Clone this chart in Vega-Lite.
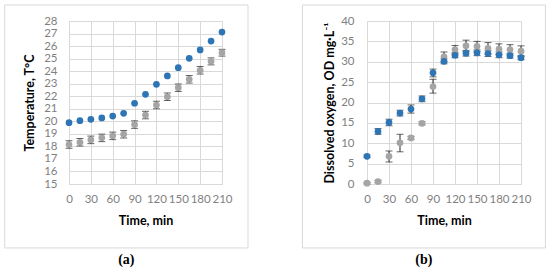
{
  "$schema": "https://vega.github.io/schema/vega-lite/v6.json",
  "padding": {"left": 4, "top": 4, "right": 0, "bottom": 0},
  "background": "white",
  "config": {
    "font": "Lato",
    "view": {"stroke": null},
    "axis": {
      "domainColor": "#d9d9d9", "gridColor": "#d9d9d9", "ticks": false, "labelOverlap": false,
      "labelColor": "#7f7f7f", "labelFont": "Lato", "labelFontSize": 11.5,
      "titleFont": "Lato", "titleFontSize": 12.5, "titleFontWeight": "bold", "titleColor": "#000000"
    },
    "title": {"font": "Liberation Serif", "fontSize": 14, "fontWeight": "bold", "orient": "bottom", "frame": "bounds", "offset": 5, "color": "#000000"}
  },
  "bounds": "flush",
  "spacing": 145,
  "hconcat": [
    {
      "width": 153, "height": 163,
      "title": {"text": "(a)"},
      "data": {"values": [
        {"t": 0, "s": "S1", "v": 19.89},
        {"t": 15, "s": "S1", "v": 20.05},
        {"t": 30, "s": "S1", "v": 20.16},
        {"t": 45, "s": "S1", "v": 20.27},
        {"t": 60, "s": "S1", "v": 20.42},
        {"t": 75, "s": "S1", "v": 20.64},
        {"t": 90, "s": "S1", "v": 21.44},
        {"t": 105, "s": "S1", "v": 22.15},
        {"t": 120, "s": "S1", "v": 22.95},
        {"t": 135, "s": "S1", "v": 23.62},
        {"t": 150, "s": "S1", "v": 24.28},
        {"t": 165, "s": "S1", "v": 25.02},
        {"t": 180, "s": "S1", "v": 25.69},
        {"t": 195, "s": "S1", "v": 26.4},
        {"t": 210, "s": "S1", "v": 27.12},
        {"t": 0, "s": "S2", "v": 18.15, "lo": 17.85, "hi": 18.45},
        {"t": 15, "s": "S2", "v": 18.33, "lo": 18.03, "hi": 18.63},
        {"t": 30, "s": "S2", "v": 18.52, "lo": 18.22, "hi": 18.82},
        {"t": 45, "s": "S2", "v": 18.68, "lo": 18.38, "hi": 18.98},
        {"t": 60, "s": "S2", "v": 18.84, "lo": 18.54, "hi": 19.14},
        {"t": 75, "s": "S2", "v": 18.97, "lo": 18.67, "hi": 19.27},
        {"t": 90, "s": "S2", "v": 19.74, "lo": 19.44, "hi": 20.04},
        {"t": 105, "s": "S2", "v": 20.5, "lo": 20.2, "hi": 20.8},
        {"t": 120, "s": "S2", "v": 21.3, "lo": 21.0, "hi": 21.6},
        {"t": 135, "s": "S2", "v": 21.96, "lo": 21.66, "hi": 22.26},
        {"t": 150, "s": "S2", "v": 22.68, "lo": 22.38, "hi": 22.98},
        {"t": 165, "s": "S2", "v": 23.35, "lo": 23.05, "hi": 23.65},
        {"t": 180, "s": "S2", "v": 24.07, "lo": 23.77, "hi": 24.37},
        {"t": 195, "s": "S2", "v": 24.78, "lo": 24.5, "hi": 25.06},
        {"t": 210, "s": "S2", "v": 25.47, "lo": 25.2, "hi": 25.74}
      ]},
      "layer": [
        {
          "data": {"values": [{"frame": "box"}]},
          "mark": {"type": "rect", "fill": "transparent", "stroke": "#d9d9d9", "strokeWidth": 1},
          "encoding": {
            "x": {"datum": -88.3, "type": "quantitative", "scale": {"domain": [0, 210], "nice": false, "zero": false},
              "axis": {"title": "Time, min", "values": [0, 30, 60, 90, 120, 150, 180, 210], "grid": true, "labelPadding": 9, "titlePadding": 10, "labelFlush": false, "labelOverlap": false}},
            "x2": {"datum": 245.7},
            "y": {"datum": 29.28, "type": "quantitative", "scale": {"domain": [15, 28], "nice": false, "zero": false},
              "axis": {"title": "Temperature, T°C", "values": [15, 16, 17, 18, 19, 20, 21, 22, 23, 24, 25, 26, 27, 28], "grid": true, "labelPadding": 12, "titlePadding": 7, "labelOverlap": false}},
            "y2": {"datum": 9.9}
          }
        },
        {
          "mark": {"type": "rule", "color": "#262626", "strokeWidth": 1},
          "encoding": {
            "x": {"field": "t", "type": "quantitative", "scale": {"domain": [0, 210], "nice": false, "zero": false},
              "axis": {"title": "Time, min", "values": [0, 30, 60, 90, 120, 150, 180, 210], "grid": true, "labelPadding": 9, "titlePadding": 10, "labelFlush": false, "labelOverlap": false}},
            "y": {"field": "lo", "type": "quantitative", "scale": {"domain": [15, 28], "nice": false, "zero": false},
              "axis": {"title": "Temperature, T°C", "values": [15, 16, 17, 18, 19, 20, 21, 22, 23, 24, 25, 26, 27, 28], "grid": true, "labelPadding": 12, "titlePadding": 7, "labelOverlap": false}},
            "y2": {"field": "hi"}
          }
        },
        {
          "mark": {"type": "tick", "orient": "horizontal", "color": "#262626", "size": 7, "thickness": 1},
          "encoding": {
            "x": {"field": "t", "type": "quantitative", "scale": {"domain": [0, 210], "nice": false, "zero": false},
              "axis": {"title": "Time, min", "values": [0, 30, 60, 90, 120, 150, 180, 210], "grid": true, "labelPadding": 9, "titlePadding": 10, "labelFlush": false, "labelOverlap": false}},
            "y": {"field": "lo", "type": "quantitative", "scale": {"domain": [15, 28], "nice": false, "zero": false},
              "axis": {"title": "Temperature, T°C", "values": [15, 16, 17, 18, 19, 20, 21, 22, 23, 24, 25, 26, 27, 28], "grid": true, "labelPadding": 12, "titlePadding": 7, "labelOverlap": false}}
          }
        },
        {
          "mark": {"type": "tick", "orient": "horizontal", "color": "#262626", "size": 7, "thickness": 1},
          "encoding": {
            "x": {"field": "t", "type": "quantitative", "scale": {"domain": [0, 210], "nice": false, "zero": false},
              "axis": {"title": "Time, min", "values": [0, 30, 60, 90, 120, 150, 180, 210], "grid": true, "labelPadding": 9, "titlePadding": 10, "labelFlush": false, "labelOverlap": false}},
            "y": {"field": "hi", "type": "quantitative", "scale": {"domain": [15, 28], "nice": false, "zero": false},
              "axis": {"title": "Temperature, T°C", "values": [15, 16, 17, 18, 19, 20, 21, 22, 23, 24, 25, 26, 27, 28], "grid": true, "labelPadding": 12, "titlePadding": 7, "labelOverlap": false}}
          }
        },
        {
          "mark": {"type": "point", "filled": true, "shape": "circle", "size": 45, "opacity": 1},
          "encoding": {
            "x": {"field": "t", "type": "quantitative", "scale": {"domain": [0, 210], "nice": false, "zero": false},
              "axis": {"title": "Time, min", "values": [0, 30, 60, 90, 120, 150, 180, 210], "grid": true, "labelPadding": 9, "titlePadding": 10, "labelFlush": false, "labelOverlap": false}},
            "y": {"field": "v", "type": "quantitative", "scale": {"domain": [15, 28], "nice": false, "zero": false},
              "axis": {"title": "Temperature, T°C", "values": [15, 16, 17, 18, 19, 20, 21, 22, 23, 24, 25, 26, 27, 28], "grid": true, "labelPadding": 12, "titlePadding": 7, "labelOverlap": false}},
            "color": {"field": "s", "type": "nominal", "scale": {"domain": ["S1", "S2"], "range": ["#2e75b6", "#a5a5a5"]}, "legend": null}
          }
        }
      ]
    },
    {
      "width": 154, "height": 163,
      "title": {"text": "(b)"},
      "data": {"values": [
        {"t": 0, "s": "S2", "v": 0.2, "lo": 0.0, "hi": 0.4},
        {"t": 15, "s": "S2", "v": 0.6, "lo": 0.3, "hi": 0.9},
        {"t": 30, "s": "S2", "v": 6.8, "lo": 5.4, "hi": 8.1},
        {"t": 45, "s": "S2", "v": 10.1, "lo": 7.9, "hi": 12.2},
        {"t": 60, "s": "S2", "v": 11.3, "lo": 10.9, "hi": 11.7},
        {"t": 75, "s": "S2", "v": 14.9, "lo": 14.5, "hi": 15.3},
        {"t": 90, "s": "S2", "v": 23.9, "lo": 22.3, "hi": 25.7},
        {"t": 105, "s": "S2", "v": 31.2, "lo": 30.0, "hi": 32.4},
        {"t": 120, "s": "S2", "v": 33.0, "lo": 31.9, "hi": 34.0},
        {"t": 135, "s": "S2", "v": 33.9, "lo": 32.5, "hi": 35.3},
        {"t": 150, "s": "S2", "v": 33.8, "lo": 32.5, "hi": 35.0},
        {"t": 165, "s": "S2", "v": 33.3, "lo": 31.9, "hi": 34.7},
        {"t": 180, "s": "S2", "v": 33.1, "lo": 31.8, "hi": 34.4},
        {"t": 195, "s": "S2", "v": 33.0, "lo": 31.7, "hi": 34.2},
        {"t": 210, "s": "S2", "v": 32.6, "lo": 31.3, "hi": 33.9},
        {"t": 0, "s": "S1", "v": 6.8, "lo": 6.5, "hi": 7.1},
        {"t": 15, "s": "S1", "v": 12.9, "lo": 12.2, "hi": 13.6},
        {"t": 30, "s": "S1", "v": 15.1, "lo": 14.3, "hi": 15.9},
        {"t": 45, "s": "S1", "v": 17.4, "lo": 16.7, "hi": 18.1},
        {"t": 60, "s": "S1", "v": 18.4, "lo": 17.4, "hi": 19.4},
        {"t": 75, "s": "S1", "v": 20.9, "lo": 20.2, "hi": 21.6},
        {"t": 90, "s": "S1", "v": 27.3, "lo": 26.3, "hi": 28.2},
        {"t": 105, "s": "S1", "v": 30.1, "lo": 29.5, "hi": 30.7},
        {"t": 120, "s": "S1", "v": 31.6, "lo": 31.0, "hi": 32.2},
        {"t": 135, "s": "S1", "v": 32.1, "lo": 31.4, "hi": 32.8},
        {"t": 150, "s": "S1", "v": 32.2, "lo": 31.5, "hi": 32.9},
        {"t": 165, "s": "S1", "v": 32.0, "lo": 31.3, "hi": 32.7},
        {"t": 180, "s": "S1", "v": 31.7, "lo": 31.0, "hi": 32.4},
        {"t": 195, "s": "S1", "v": 31.5, "lo": 30.9, "hi": 32.1},
        {"t": 210, "s": "S1", "v": 31.0, "lo": 30.5, "hi": 31.5}
      ]},
      "layer": [
        {
          "data": {"values": [{"frame": "box"}]},
          "mark": {"type": "rect", "fill": "transparent", "stroke": "#d9d9d9", "strokeWidth": 1},
          "encoding": {
            "x": {"datum": -88.1, "type": "quantitative", "scale": {"domain": [0, 210], "nice": false, "zero": false},
              "axis": {"title": "Time, min", "values": [0, 30, 60, 90, 120, 150, 180, 210], "grid": true, "labelPadding": 9, "titlePadding": 10, "labelFlush": false, "labelOverlap": false}},
            "x2": {"datum": 243.3},
            "y": {"datum": 43.93, "type": "quantitative", "scale": {"domain": [0, 40], "nice": false, "zero": false},
              "axis": {"title": "Dissolved oxygen, OD mg·L⁻¹", "values": [0, 5, 10, 15, 20, 25, 30, 35, 40], "grid": true, "labelPadding": 13, "titlePadding": 4, "labelOverlap": false}},
            "y2": {"datum": -15.7}
          }
        },
        {
          "mark": {"type": "rule", "color": "#262626", "strokeWidth": 1},
          "encoding": {
            "x": {"field": "t", "type": "quantitative", "scale": {"domain": [0, 210], "nice": false, "zero": false},
              "axis": {"title": "Time, min", "values": [0, 30, 60, 90, 120, 150, 180, 210], "grid": true, "labelPadding": 9, "titlePadding": 10, "labelFlush": false, "labelOverlap": false}},
            "y": {"field": "lo", "type": "quantitative", "scale": {"domain": [0, 40], "nice": false, "zero": false},
              "axis": {"title": "Dissolved oxygen, OD mg·L⁻¹", "values": [0, 5, 10, 15, 20, 25, 30, 35, 40], "grid": true, "labelPadding": 13, "titlePadding": 4, "labelOverlap": false}},
            "y2": {"field": "hi"}
          }
        },
        {
          "mark": {"type": "tick", "orient": "horizontal", "color": "#262626", "size": 7, "thickness": 1},
          "encoding": {
            "x": {"field": "t", "type": "quantitative", "scale": {"domain": [0, 210], "nice": false, "zero": false},
              "axis": {"title": "Time, min", "values": [0, 30, 60, 90, 120, 150, 180, 210], "grid": true, "labelPadding": 9, "titlePadding": 10, "labelFlush": false, "labelOverlap": false}},
            "y": {"field": "lo", "type": "quantitative", "scale": {"domain": [0, 40], "nice": false, "zero": false},
              "axis": {"title": "Dissolved oxygen, OD mg·L⁻¹", "values": [0, 5, 10, 15, 20, 25, 30, 35, 40], "grid": true, "labelPadding": 13, "titlePadding": 4, "labelOverlap": false}}
          }
        },
        {
          "mark": {"type": "tick", "orient": "horizontal", "color": "#262626", "size": 7, "thickness": 1},
          "encoding": {
            "x": {"field": "t", "type": "quantitative", "scale": {"domain": [0, 210], "nice": false, "zero": false},
              "axis": {"title": "Time, min", "values": [0, 30, 60, 90, 120, 150, 180, 210], "grid": true, "labelPadding": 9, "titlePadding": 10, "labelFlush": false, "labelOverlap": false}},
            "y": {"field": "hi", "type": "quantitative", "scale": {"domain": [0, 40], "nice": false, "zero": false},
              "axis": {"title": "Dissolved oxygen, OD mg·L⁻¹", "values": [0, 5, 10, 15, 20, 25, 30, 35, 40], "grid": true, "labelPadding": 13, "titlePadding": 4, "labelOverlap": false}}
          }
        },
        {
          "mark": {"type": "point", "filled": true, "shape": "circle", "size": 45, "opacity": 1},
          "encoding": {
            "x": {"field": "t", "type": "quantitative", "scale": {"domain": [0, 210], "nice": false, "zero": false},
              "axis": {"title": "Time, min", "values": [0, 30, 60, 90, 120, 150, 180, 210], "grid": true, "labelPadding": 9, "titlePadding": 10, "labelFlush": false, "labelOverlap": false}},
            "y": {"field": "v", "type": "quantitative", "scale": {"domain": [0, 40], "nice": false, "zero": false},
              "axis": {"title": "Dissolved oxygen, OD mg·L⁻¹", "values": [0, 5, 10, 15, 20, 25, 30, 35, 40], "grid": true, "labelPadding": 13, "titlePadding": 4, "labelOverlap": false}},
            "color": {"field": "s", "type": "nominal", "scale": {"domain": ["S1", "S2"], "range": ["#2e75b6", "#a5a5a5"]}, "legend": null}
          }
        }
      ]
    }
  ]
}
